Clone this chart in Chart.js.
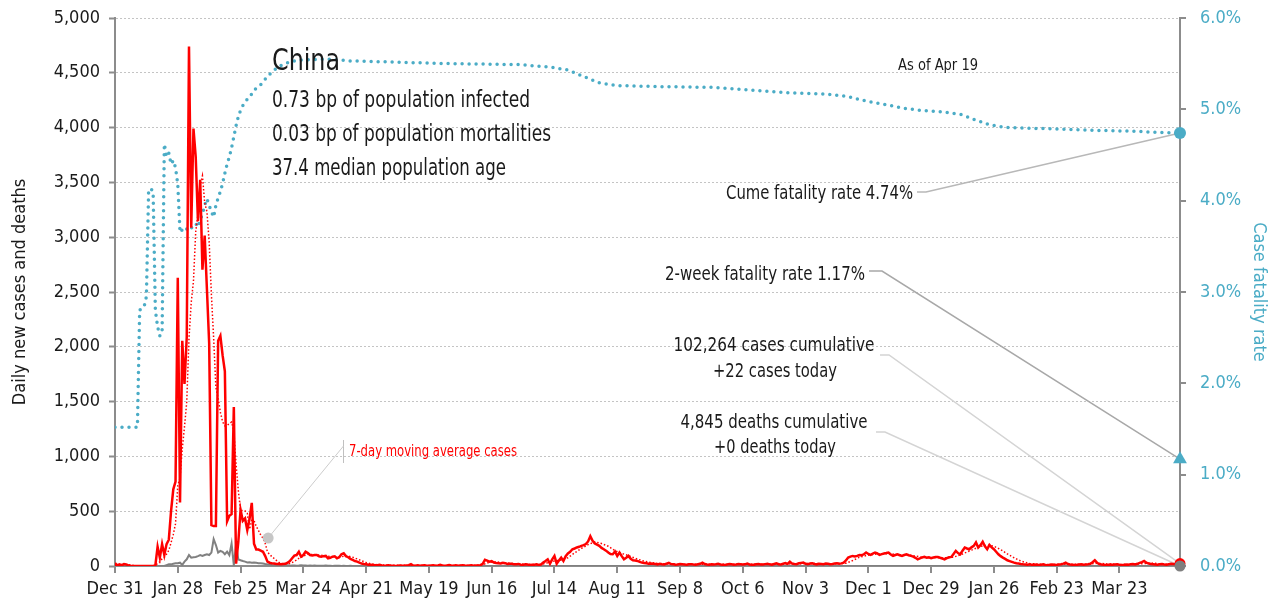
<!DOCTYPE html>
<html>
<head>
<meta charset="utf-8">
<title>China - daily cases, deaths and case fatality rate</title>
<script src="https://cdn.jsdelivr.net/npm/chart.js@4.4.1/dist/chart.umd.min.js"></script>
<style>
  html, body { margin: 0; padding: 0; background: #fff; }
  #chart { display: block; }
</style>
</head>
<body>
<canvas id="chart" width="1274" height="609"></canvas>
<script>
// x axis is day number counted from Dec 31 2019, ticks every 28 days
var tickLabels = ['Dec 31', 'Jan 28', 'Feb 25', 'Mar 24', 'Apr 21', 'May 19', 'Jun 16', 'Jul 14', 'Aug 11',
                  'Sep 8', 'Oct 6', 'Nov 3', 'Dec 1', 'Dec 29', 'Jan 26', 'Feb 23', 'Mar 23'];

// daily new cases, one value per day (day 0 .. 475)
var dailyCases = [
    27, 5, 15, 8, 17, 15, 5, 0, 0, 0, 0, 0, 0, 0, 0, 0, 0, 0, 5, 176,
    76, 200, 100, 200, 240, 500, 700, 770, 2630, 580, 2054, 1661, 2089, 4739, 3086, 3991, 3733, 3147, 3523, 2704,
    3015, 2525, 2032, 373, 365, 365, 2055, 2100, 1921, 1777, 408, 458, 473, 1451, 21, 219, 513, 412, 434, 328,
    428, 576, 204, 150, 150, 140, 130, 90, 40, 30, 24, 22, 18, 18, 15, 18, 20, 30, 45, 70,
    95, 100, 130, 85, 100, 130, 118, 100, 95, 100, 100, 88, 85, 90, 92, 70, 75, 85, 88, 70,
    80, 108, 116, 90, 80, 65, 55, 45, 40, 30, 22, 18, 15, 12, 12, 10, 6, 8, 12, 5,
    3, 4, 6, 2, 3, 1, 2, 4, 3, 2, 5, 8, 17, 4, 2, 6, 3, 5, 7, 3,
    2, 4, 6, 3, 5, 10, 4, 3, 5, 8, 4, 2, 6, 3, 5, 7, 4, 3, 5, 6,
    3, 4, 5, 8, 20, 57, 49, 40, 44, 32, 28, 25, 22, 30, 26, 18, 21, 20, 15, 17,
    19, 12, 10, 16, 14, 8, 11, 12, 15, 10, 14, 31, 45, 61, 21, 60, 92, 21, 50, 77,
    46, 90, 114, 130, 153, 160, 169, 175, 184, 190, 200, 224, 272, 230, 206, 195, 184, 165, 153, 140,
    123, 110, 107, 132, 92, 123, 90, 61, 75, 92, 65, 52, 50, 46, 38, 31, 28, 25, 21, 22,
    20, 18, 15, 20, 16, 14, 22, 28, 17, 15, 12, 14, 18, 16, 13, 11, 15, 17, 14, 12,
    16, 20, 30, 18, 14, 12, 15, 13, 16, 20, 14, 12, 10, 13, 17, 15, 12, 14, 18, 16,
    13, 15, 22, 14, 12, 11, 16, 19, 14, 13, 17, 21, 15, 12, 18, 24, 16, 14, 20, 26,
    19, 40, 22, 18, 16, 25, 28, 31, 20, 17, 22, 24, 18, 15, 21, 19, 17, 23, 20, 16,
    18, 22, 25, 20, 24, 31, 50, 77, 85, 92, 88, 92, 100, 98, 107, 123, 110, 101, 112, 123,
    115, 101, 108, 114, 118, 123, 105, 92, 100, 107, 98, 92, 100, 107, 98, 92, 85, 75, 61, 70,
    78, 83, 76, 80, 71, 78, 83, 83, 75, 68, 61, 72, 80, 83, 110, 138, 118, 107, 140, 169,
    160, 153, 170, 184, 215, 169, 190, 221, 180, 153, 193, 170, 153, 130, 107, 90, 77, 65, 52, 45,
    38, 31, 25, 22, 18, 15, 14, 12, 16, 10, 13, 11, 9, 12, 15, 10, 8, 11, 14, 12,
    10, 13, 16, 22, 30, 18, 14, 12, 10, 11, 13, 15, 12, 14, 16, 20, 35, 52, 30, 18,
    14, 12, 10, 11, 13, 12, 14, 16, 12, 10, 11, 13, 12, 15, 18, 14, 20, 28, 35, 46,
    30, 22, 18, 16, 14, 12, 15, 18, 14, 12, 16, 20, 18, 15, 17, 22
];

// daily new deaths, one value per day
var dailyDeaths = [
    0, 0, 0, 0, 0, 0, 0, 0, 0, 0, 0, 0, 0, 0, 0, 0, 0, 0, 0, 0,
    0, 0, 0, 8, 16, 15, 20, 25, 25, 30, 10, 40, 61, 100, 76, 80, 82, 90, 100, 91,
    100, 107, 100, 122, 245, 191, 122, 137, 130, 107, 131, 100, 205, 5, 200, 60, 52, 45, 40, 33,
    35, 30, 31, 30, 25, 24, 22, 18, 15, 14, 10, 8, 7, 8, 6, 5, 4, 6, 3, 4,
    5, 3, 4, 6, 5, 4, 3, 5, 2, 4, 3, 2, 3, 2, 4, 2, 3, 1, 2, 3,
    2, 1, 2, 0, 1, 2, 1, 0, 0, 1, 0, 0, 1, 0, 0, 0, 1, 0, 0, 0,
    0, 0, 0, 1, 0, 0, 0, 0, 0, 0, 0, 0, 0, 0, 0, 0, 0, 0, 0, 0,
    0, 0, 0, 0, 0, 0, 0, 0, 0, 0, 0, 0, 0, 0, 0, 0, 0, 0, 0, 0,
    0, 0, 0, 0, 0, 0, 0, 0, 0, 0, 0, 0, 0, 0, 0, 0, 0, 0, 0, 0,
    0, 0, 0, 0, 0, 0, 0, 0, 0, 0, 0, 0, 0, 0, 0, 0, 0, 0, 0, 0,
    0, 0, 0, 0, 0, 0, 0, 0, 0, 0, 0, 0, 0, 1, 0, 0, 0, 0, 0, 0,
    0, 0, 0, 0, 0, 0, 0, 0, 0, 0, 0, 0, 0, 0, 0, 0, 0, 0, 0, 0,
    0, 0, 0, 0, 0, 0, 0, 0, 0, 0, 0, 0, 0, 0, 0, 0, 0, 0, 0, 0,
    0, 0, 0, 0, 0, 0, 0, 0, 0, 0, 0, 0, 0, 0, 0, 0, 0, 0, 0, 0,
    0, 0, 0, 0, 0, 0, 0, 0, 0, 0, 0, 0, 0, 0, 0, 0, 0, 0, 0, 0,
    0, 0, 0, 0, 0, 0, 0, 0, 0, 0, 0, 0, 0, 0, 0, 0, 0, 0, 0, 0,
    0, 0, 0, 0, 0, 0, 0, 0, 0, 0, 0, 0, 0, 0, 0, 0, 0, 0, 0, 0,
    0, 0, 0, 0, 0, 0, 0, 0, 0, 0, 0, 0, 0, 0, 0, 0, 0, 0, 0, 0,
    0, 0, 0, 0, 0, 0, 0, 0, 0, 0, 0, 0, 0, 0, 0, 0, 0, 0, 0, 0,
    0, 0, 0, 0, 1, 0, 0, 0, 0, 1, 0, 0, 0, 0, 0, 0, 0, 0, 0, 0,
    0, 0, 0, 0, 0, 0, 0, 0, 0, 0, 0, 0, 0, 0, 0, 0, 0, 0, 0, 0,
    0, 0, 0, 0, 0, 0, 0, 0, 0, 0, 0, 0, 0, 0, 0, 0, 0, 0, 0, 0,
    0, 0, 0, 0, 0, 0, 0, 0, 0, 0, 0, 0, 0, 0, 0, 0, 0, 0, 0, 0,
    0, 0, 0, 0, 0, 0, 0, 0, 0, 0, 0, 0, 0, 0, 0, 0
];

// 7-day moving average of cases: daily for day 0..86, then read at these days
var maCasesEarly = [
    4, 4, 6, 7, 10, 12, 12, 9, 6, 4, 2, 1, 0, 0, 0, 0, 0, 1, 1,
    26, 37, 65, 80, 108, 142, 213, 288, 387, 734, 803, 1068, 1271, 1498, 2075, 2406, 2600, 3050, 3207, 3473, 3560,
    3314, 3234, 2954, 2474, 2077, 1626, 1533, 1402, 1316, 1279, 1284, 1298, 1313, 1227, 930, 687, 506, 507, 503, 483,
    336, 416, 414, 362, 324, 282, 254, 206, 129, 104, 86, 68, 51, 35, 24, 21, 19, 20, 23, 31,
    42, 54, 70, 79, 89, 101, 108
];
var maLateDays = [88, 90, 93, 96, 99, 102, 104, 106, 108, 110, 112, 114, 117, 120, 125, 140, 150, 160, 164, 167,
                  170, 173, 178, 185, 190, 193, 196, 199, 202, 205, 208, 211, 214, 217, 220, 223, 226, 229, 232, 235,
                  238, 242, 250, 260, 270, 280, 290, 300, 310, 320, 326, 329, 332, 335, 340, 345, 350, 355, 360, 365,
                  370, 374, 378, 382, 386, 389, 392, 395, 398, 401, 404, 408, 415, 425, 432, 438, 442, 450, 458, 462,
                  466, 470, 475];
var maLate = [105, 102, 95, 85, 80, 88, 90, 80, 65, 48, 32, 20, 12, 8, 6, 5, 5, 5, 12, 35,
              38, 30, 22, 15, 14, 30, 45, 55, 75, 120, 160, 195, 220, 205, 180, 140, 115, 95, 70, 50,
              35, 22, 17, 16, 15, 15, 16, 19, 23, 20, 25, 50, 80, 95, 110, 112, 103, 98, 80, 75,
              75, 80, 110, 145, 180, 190, 180, 150, 110, 75, 45, 22, 13, 17, 14, 25, 20, 13, 20, 28,
              20, 16, 18];

// case fatality rate (%): daily for day 0..60, then read at these days
var cfrEarly = [
    1.52, 1.52, 1.52, 1.52, 1.52, 1.52, 1.52, 1.52, 1.52, 1.52, 1.52, 2.80, 2.82, 2.84, 2.95, 4.12, 4.13, 4.10, 2.80, 2.62,
    2.52, 2.55, 4.62, 4.48, 4.52, 4.40, 4.44, 4.36, 4.18, 3.65, 3.68, 3.66, 3.69, 3.67, 3.70, 3.72, 3.75, 3.71, 3.79, 3.85,
    3.95, 4.02, 3.95, 3.88, 3.82, 3.95, 4.03, 4.10, 4.19, 4.30, 4.40, 4.48, 4.58, 4.70, 4.82, 4.92, 4.99, 5.04, 5.08, 5.11,
    5.13
];
var cfrLateDays = [62, 65, 68, 71, 74, 78, 83, 96, 105, 120, 150, 180, 195, 202, 209, 216, 224, 240, 267, 284,
                   301, 318, 327, 335, 344, 352, 361, 370, 378, 383, 390, 398, 412, 421, 437, 454, 468, 475];
var cfrLate = [5.21, 5.27, 5.36, 5.43, 5.48, 5.52, 5.54, 5.55, 5.53, 5.52, 5.50, 5.49, 5.46, 5.43, 5.36, 5.29, 5.26, 5.25, 5.24, 5.21,
               5.18, 5.165, 5.14, 5.09, 5.05, 5.01, 4.985, 4.97, 4.94, 4.89, 4.83, 4.80, 4.79, 4.785, 4.77, 4.76, 4.745, 4.74];

var cumeRate = 4.74;
var twoWeekRate = 1.17;
var casesToday = 22;
var deathsToday = 0;
var maNoteDay = 68.3, maNoteValue = 255;

var teal = '#4BACC6';
var axisGray = '#8c8c8c';
var ink = '#1a1a1a';
var font = '"Liberation Sans Narrow", "Arial Narrow", "DejaVu Sans Condensed", sans-serif';
var lastDay = dailyCases.length - 1;

function byDay(arr) {
    return arr.map(function(v, i) { return {x: i, y: v}; });
}
function pairs(days, vals) {
    return days.map(function(d, i) { return {x: d, y: vals[i]}; });
}

var maPoints = byDay(maCasesEarly).concat(pairs(maLateDays, maLate));
var cfrPoints = byDay(cfrEarly).concat(pairs(cfrLateDays, cfrLate));

function marker(x, y, axis, color, style, r) {
    return {
        data: [{x: x, y: y}],
        yAxisID: axis,
        showLine: false,
        pointStyle: style,
        pointRadius: r,
        pointBackgroundColor: color,
        pointBorderColor: color,
        pointBorderWidth: 0,
        clip: false,
        order: 0
    };
}

// keep the plot area where the reference has it
function fixWidth(w) {
    return function(s) {
        s.width = w;
        s.paddingTop = 0;
        s.paddingBottom = 0;
    };
}

// leader lines and text labels
var notes = {
    id: 'notes',
    beforeDatasetsDraw: function(chart) {
        var ctx = chart.ctx;
        var sx = chart.scales.x, sy = chart.scales.y, sy2 = chart.scales.y2;
        var ex = sx.getPixelForValue(lastDay);
        function leader(pts, color, w) {
            ctx.beginPath();
            ctx.moveTo(pts[0][0], pts[0][1]);
            for (var i = 1; i < pts.length; i++) ctx.lineTo(pts[i][0], pts[i][1]);
            ctx.strokeStyle = color;
            ctx.lineWidth = w;
            ctx.stroke();
        }
        ctx.save();
        leader([[917, 192], [926, 192], [ex, sy2.getPixelForValue(cumeRate)]], '#b8b8b8', 1.5);
        leader([[869, 271], [882, 271], [ex, sy2.getPixelForValue(twoWeekRate)]], '#a8a8a8', 1.5);
        leader([[880, 355], [889, 355], [ex, sy.getPixelForValue(casesToday)]], '#d4d4d4', 1.5);
        leader([[876, 432], [885, 432], [ex, sy.getPixelForValue(deathsToday)]], '#d4d4d4', 1.5);
        leader([[343.5, 440], [343.5, 463]], '#c0c0c0', 1);
        leader([[343.5, 446], [sx.getPixelForValue(maNoteDay), sy.getPixelForValue(maNoteValue)]], '#cccccc', 1);
        ctx.restore();
    },
    afterDatasetsDraw: function(chart) {
        var ctx = chart.ctx;
        function label(str, px, py, size, align, color, maxW) {
            ctx.font = size + 'px ' + font;
            ctx.fillStyle = color || ink;
            ctx.textAlign = align || 'left';
            ctx.textBaseline = 'alphabetic';
            ctx.fillText(str, px, py, maxW);
        }
        ctx.save();
        label('China', 272, 70, 31, 'left', ink, 68);
        label('0.73 bp of population infected', 272, 107, 23, 'left', ink, 258);
        label('0.03 bp of population mortalities', 272, 141, 23, 'left', ink, 279);
        label('37.4 median population age', 272, 175, 23, 'left', ink, 234);
        label('As of Apr 19', 938, 70, 16, 'center', ink, 80);
        label('Cume fatality rate 4.74%', 913, 199, 20, 'right', ink, 187);
        label('2-week fatality rate 1.17%', 865, 280, 20, 'right', ink, 200);
        label('102,264 cases cumulative', 774, 351, 20, 'center', ink, 201);
        label('+22 cases today', 775, 377, 20, 'center', ink, 124);
        label('4,845 deaths cumulative', 774, 428, 20, 'center', ink, 187);
        label('+0 deaths today', 775, 453, 20, 'center', ink, 122);
        label('7-day moving average cases', 349, 456, 16, 'left', '#ff0000', 168);
        ctx.restore();
    }
};

var ctx = document.getElementById('chart').getContext('2d');
var myChart = new Chart(ctx, {
    type: 'line',
    data: {
        datasets: [
            marker(maNoteDay, maNoteValue, 'y', '#c6c6c6', 'circle', 5.5),
            marker(lastDay, deathsToday, 'y', '#7f7f7f', 'circle', 5.5),
            marker(lastDay, casesToday, 'y', '#ff0000', 'circle', 5.5),
            marker(lastDay, cumeRate, 'y2', teal, 'circle', 6),
            marker(lastDay, twoWeekRate, 'y2', teal, 'triangle', 8),
            {
                label: 'Daily new cases',
                data: byDay(dailyCases),
                yAxisID: 'y',
                borderColor: '#ff0000',
                borderWidth: 2.5,
                order: 1
            },
            {
                label: '7-day moving average cases',
                data: maPoints,
                yAxisID: 'y',
                borderColor: '#ff0000',
                borderWidth: 1.5,
                borderDash: [1.5, 2],
                order: 2
            },
            {
                label: 'Daily new deaths',
                data: byDay(dailyDeaths),
                yAxisID: 'y',
                borderColor: '#808080',
                borderWidth: 2,
                order: 3
            },
            {
                label: 'Case fatality rate',
                data: cfrPoints,
                yAxisID: 'y2',
                borderColor: teal,
                borderWidth: 3.5,
                borderDash: [0, 7],
                borderCapStyle: 'round',
                order: 4
            }
        ]
    },
    options: {
        responsive: false,
        animation: false,
        devicePixelRatio: 1,
        events: [],
        layout: { padding: { top: 18, left: 0, right: 0, bottom: 0 } },
        elements: {
            point: { radius: 0 },
            line: { tension: 0, fill: false }
        },
        plugins: {
            legend: { display: false },
            tooltip: { enabled: false }
        },
        scales: {
            x: {
                type: 'linear',
                min: 0,
                max: lastDay,
                afterFit: function(s) { s.height = 43; },
                grid: { drawOnChartArea: false, color: axisGray, lineWidth: 2, tickLength: 7 },
                border: { color: axisGray, width: 2 },
                ticks: {
                    stepSize: 28,
                    includeBounds: false,
                    autoSkip: false,
                    maxRotation: 0,
                    padding: 6,
                    color: ink,
                    font: { family: font, size: 18 },
                    callback: function(v) { return tickLabels[Math.round(v / 28)]; }
                }
            },
            y: {
                position: 'left',
                min: 0,
                max: 5000,
                afterFit: fixWidth(115),
                grid: { color: '#c4c4c4', lineWidth: 1, tickColor: axisGray, tickWidth: 2, tickLength: 6 },
                border: { color: axisGray, width: 2, dash: [2, 2] },
                ticks: {
                    stepSize: 500,
                    padding: 9,
                    color: ink,
                    font: { family: font, size: 18 },
                    callback: function(v) { return v.toLocaleString('en-US'); }
                },
                title: {
                    display: true,
                    text: 'Daily new cases and deaths',
                    color: ink,
                    font: { family: font, size: 18 },
                    padding: { top: 10, bottom: 0 }
                }
            },
            y2: {
                position: 'right',
                min: 0,
                max: 6,
                afterFit: fixWidth(94),
                grid: { drawOnChartArea: false, color: axisGray, lineWidth: 2, tickLength: 6 },
                border: { color: axisGray, width: 2 },
                ticks: {
                    stepSize: 1,
                    padding: 14,
                    color: teal,
                    font: { family: font, size: 18 },
                    callback: function(v) { return v.toFixed(1) + '%'; }
                },
                title: {
                    display: true,
                    text: 'Case fatality rate',
                    color: teal,
                    font: { family: font, size: 18 },
                    padding: { top: 5, bottom: 0 }
                }
            }
        }
    },
    plugins: [notes]
});
</script>
</body>
</html>
